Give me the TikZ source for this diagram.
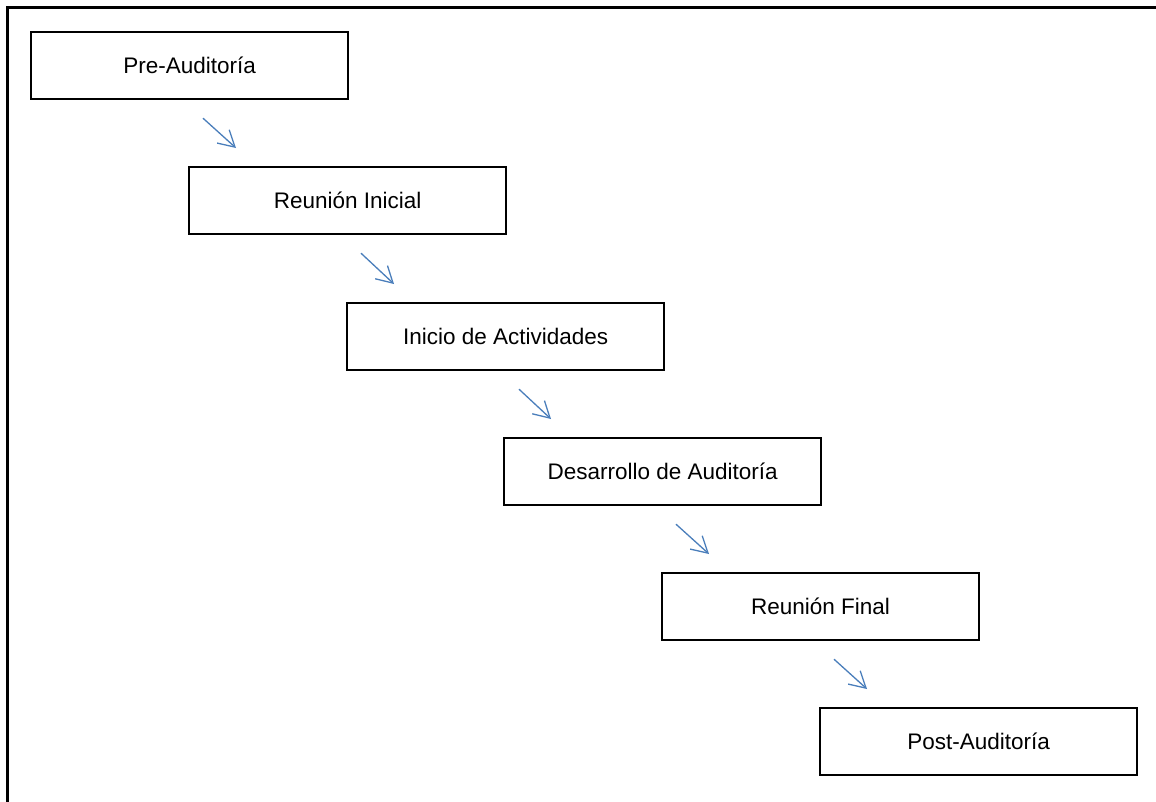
\documentclass[tikz,border=0pt]{standalone}
\usepackage{fontspec}
\setmainfont{Liberation Sans}
\usetikzlibrary{arrows.meta,positioning}
\definecolor{arrowblue}{RGB}{74,126,187}
\begin{document}
\begin{tikzpicture}[x=1pt,y=-1pt,
  stage/.style={draw, line width=2.2pt, minimum width=317pt, minimum height=67pt,
    inner sep=0pt, anchor=north west, font=\fontsize{22.5}{27}\selectfont},
  flow/.style={draw=arrowblue, line width=1.3pt, -{Straight Barb[length=16pt,width=18pt,line width=1.3pt]}}]
  \useasboundingbox (0,0) rectangle (1156,801);
  \draw[line width=2.4pt] (7.5,810) -- (7.5,7.5) -- (1170,7.5);
  \node[stage] (b1) at (30,31)  {Pre-Auditoría};
  \node[stage] (b2) at (188,166) {Reunión Inicial};
  \node[stage] (b3) at (346,302) {Inicio de Actividades};
  \node[stage] (b4) at (503,437) {Desarrollo de Auditoría};
  \node[stage] (b5) at (661,572) {Reunión Final};
  \node[stage] (b6) at (819,707) {Post-Auditoría};
  \foreach \a/\b in {b1/b2,b2/b3,b3/b4,b4/b5,b5/b6}
    \draw[flow] ([shift={(173,18)}]\a.south west) -- ([shift={(48,-18)}]\b.north west);
\end{tikzpicture}
\end{document}
